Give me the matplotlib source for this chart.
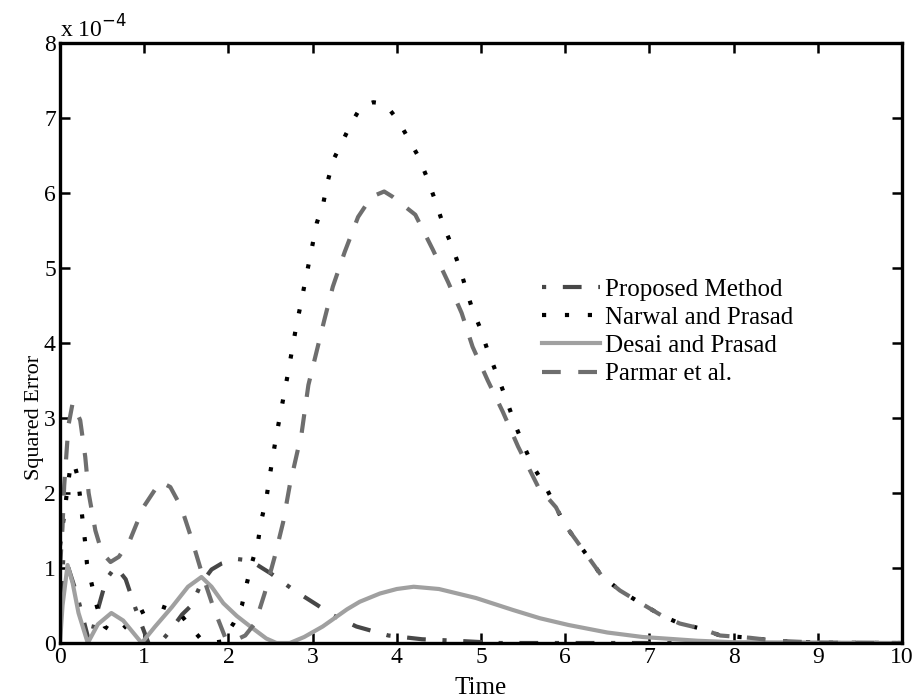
import matplotlib
matplotlib.use("Agg")
import matplotlib.pyplot as plt
import numpy as np

# ---- data (values in units of 1e-4) ----
t_proposed = [0.0, 0.04, 0.1, 0.2, 0.35, 0.45, 0.55, 0.66, 0.78, 0.9, 1.05, 1.2, 1.3, 1.45, 1.56,
              1.68, 1.8, 1.92, 2.1, 2.26, 2.4, 2.5, 2.77, 3.05, 3.24, 3.52, 3.9, 4.3, 4.7, 5.2, 6.0, 8.0, 10.0]
y_proposed = [0.3, 1.15, 1.0, 0.65, 0.0, 0.45, 0.85, 1.02, 0.85, 0.45, 0.0, 0.02, 0.15, 0.38, 0.5,
              0.8, 0.98, 1.06, 1.12, 1.1, 1.0, 0.93, 0.71, 0.51, 0.37, 0.22, 0.1, 0.05, 0.03, 0.0, 0.0, 0.0, 0.0]

t_narwal = [0.0, 0.03, 0.06, 0.09, 0.13, 0.17, 0.21, 0.24, 0.27, 0.30, 0.32, 0.38, 0.44, 0.53, 0.65,
            0.73, 0.85, 0.95, 1.1, 1.2, 1.3, 1.44, 1.56, 1.66, 1.8, 1.92, 2.06, 2.16, 2.22, 2.28,
            2.35, 2.39, 2.45, 2.49, 2.53, 2.57, 2.7, 2.81, 2.86, 2.91, 2.96, 3.05, 3.13, 3.18, 3.25,
            3.36, 3.46, 3.58, 3.72, 3.86, 4.02, 4.13, 4.25, 4.35, 4.44, 4.56, 4.66, 4.75, 4.82,
            4.9, 4.99, 5.07, 5.25, 5.34, 5.42, 5.52, 5.62, 5.76, 5.89, 6.0, 6.13, 6.43, 6.65,
            6.87, 7.14, 7.36, 7.62, 7.84, 8.19, 8.5, 9.0, 10.0]
y_narwal = [1.3, 1.55, 1.8, 2.08, 2.4, 2.38, 2.22, 1.93, 1.62, 1.33, 1.06, 0.77, 0.48, 0.22, 0.13,
            0.17, 0.3, 0.4, 0.48, 0.49, 0.45, 0.37, 0.2, 0.07, 0.0, 0.02, 0.26, 0.5, 0.8, 1.07,
            1.34, 1.63, 1.92, 2.22, 2.5, 2.77, 3.55, 4.25, 4.52, 4.81, 5.09, 5.6, 5.88, 6.16, 6.45,
            6.7, 6.93, 7.16, 7.21, 7.19, 6.96, 6.74, 6.5, 6.23, 5.95, 5.55, 5.28, 4.99, 4.73,
            4.44, 4.2, 3.93, 3.4, 3.12, 2.87, 2.6, 2.35, 2.1, 1.81, 1.57, 1.37, 0.9, 0.7,
            0.55, 0.37, 0.26, 0.19, 0.1, 0.07, 0.03, 0.005, 0.0]

t_desai = [0.0, 0.03, 0.09, 0.15, 0.22, 0.33, 0.45, 0.61, 0.75, 0.97, 1.13, 1.33, 1.52, 1.68,
           1.8, 1.94, 2.1, 2.26, 2.45, 2.57, 2.73, 2.9, 3.12, 3.41, 3.56, 3.8, 4.0, 4.2, 4.5,
           4.94, 5.38, 5.7, 6.04, 6.5, 6.92, 7.57, 8.0, 10.0]
y_desai = [0.0, 0.5, 1.04, 0.8, 0.4, 0.0, 0.25, 0.4, 0.3, 0.0, 0.22, 0.48, 0.75, 0.88,
           0.75, 0.53, 0.36, 0.22, 0.06, 0.0, 0.0, 0.08, 0.22, 0.45, 0.55, 0.66, 0.72, 0.75, 0.72,
           0.6, 0.44, 0.33, 0.24, 0.14, 0.08, 0.03, 0.01, 0.0]

t_parmar = [0.0, 0.03, 0.05, 0.1, 0.15, 0.24, 0.30, 0.34, 0.42, 0.5, 0.6, 0.7, 0.83, 0.99, 1.19,
            1.31, 1.44, 1.56, 1.68, 1.82, 1.96, 2.05, 2.2, 2.32, 2.43, 2.55, 2.65, 2.73, 2.87,
            2.95, 3.14, 3.24, 3.38, 3.54, 3.7, 3.85, 3.95, 4.22, 4.43, 4.61, 4.77, 4.9, 5.08,
            5.26, 5.44, 5.68, 5.89, 6.0, 6.13, 6.43, 6.65, 6.87, 7.14, 7.36, 7.62, 7.84, 8.19,
            8.5, 9.0, 10.0]
y_parmar = [1.0, 1.55, 2.1, 2.9, 3.2, 2.97, 2.48, 2.0, 1.5, 1.2, 1.08, 1.15, 1.37, 1.81, 2.15,
            2.08, 1.81, 1.4, 0.95, 0.48, 0.08, 0.02, 0.1, 0.27, 0.66, 1.15, 1.61, 2.11, 2.8,
            3.44, 4.31, 4.75, 5.21, 5.68, 5.95, 6.02, 5.95, 5.71, 5.24, 4.81, 4.4, 3.95, 3.5,
            3.08, 2.62, 2.08, 1.81, 1.57, 1.37, 0.9, 0.7, 0.55, 0.37, 0.26, 0.19, 0.1, 0.07,
            0.03, 0.005, 0.0]

labels = ["Proposed Method", "Narwal and Prasad", "Desai and Prasad", "Parmar et al."]
x_ticks = list(range(0, 11))
y_ticks = list(range(0, 9))

plt.rcParams['font.family'] = ['Liberation Serif', 'DejaVu Serif']

fig = plt.figure(figsize=(9.19, 7.0), dpi=100)
ax = fig.add_axes([60/919, 57/700, 842/919, 600/700])

lw = 3.0
ax.plot(t_proposed, y_proposed, color='#474747', lw=lw, linestyle=(0, (1, 4, 4.5, 4)), label=labels[0])
ax.plot(t_narwal, y_narwal, color='#000000', lw=lw, linestyle=(0, (1, 4.5)), label=labels[1])
ax.plot(t_desai, y_desai, color='#a0a0a0', lw=lw, linestyle='-', label=labels[2])
ax.plot(t_parmar, y_parmar, color='#6e6e6e', lw=lw, linestyle=(0, (4.5, 4.2)), label=labels[3])

ax.set_xlim(0, 10)
ax.set_ylim(0, 8)
ax.set_xticks(x_ticks)
ax.set_yticks(y_ticks)
ax.tick_params(direction='in', length=7, width=1.8, labelsize=17, top=True, right=True,
               pad=3)
for s in ax.spines.values():
    s.set_linewidth(2.4)

ax.set_xlabel("Time", fontsize=18, va='center')
ax.xaxis.set_label_coords(0.5, -(688 - 643) / 600)
ax.set_ylabel("Squared Error", fontsize=16, va='center')
ax.yaxis.set_label_coords(-(60 - 35) / 842, (643 - 417) / 600)
ax.text(0.0, 1.0, r"x 10$^{-4}$", transform=ax.transAxes, fontsize=17,
        ha='left', va='bottom')

leg = ax.legend(loc='upper left', bbox_to_anchor=((542 - 60) / 842, (643 - 278) / 600),
                frameon=False, fontsize=18, handlelength=2.3, handletextpad=0.2,
                labelspacing=0.23, borderaxespad=0, borderpad=0)

fig.savefig("out.png", dpi=100)
